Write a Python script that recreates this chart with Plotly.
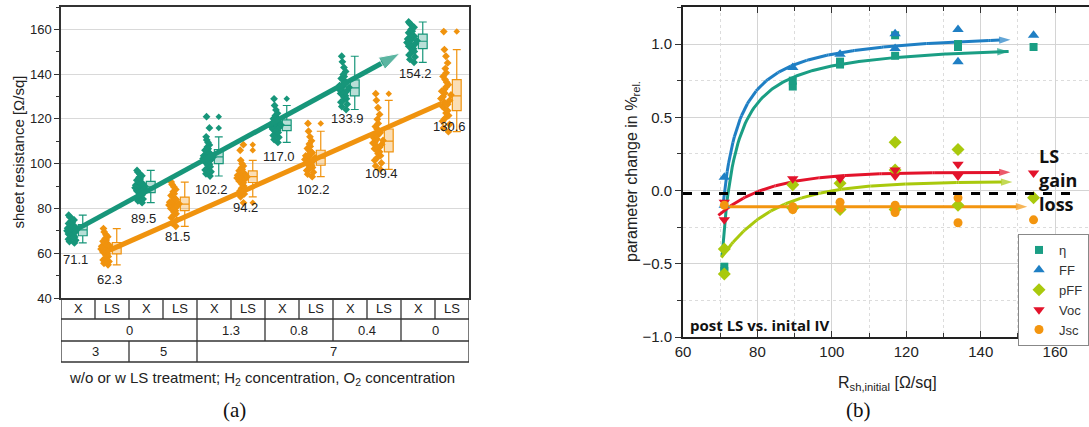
import numpy as np
import plotly.graph_objects as go

# ---------------- panel (a) data ----------------
treatment_labels = ["X", "LS"] * 6
h2_labels = ["0", "1.3", "0.8", "0.4", "0"]
h2_spans = [4, 2, 2, 2, 2]
o2_labels = ["3", "5", "7"]
o2_spans = [2, 2, 8]

mean_X = [71.1, 89.5, 102.2, 117.0, 133.9, 154.2]
mean_LS = [62.3, 81.5, 94.2, 102.2, 109.4, 130.6]

samples_X = [
    [64.6, 65.2, 65.8, 66.3, 66.8, 67.2, 67.5, 67.8, 68.2, 68.6, 68.9, 69.3, 69.6, 70.0, 70.3,
     70.6, 70.9, 71.2, 71.5, 71.8, 72.1, 72.4, 72.8, 73.3, 73.8, 74.3, 74.9, 75.5, 76.2, 77.0],
    [82.6, 83.4, 84.2, 84.9, 85.5, 86.1, 86.6, 87.1, 87.5, 87.9, 88.3, 88.6, 88.9, 89.2, 89.5,
     89.8, 90.1, 90.4, 90.7, 91.0, 91.3, 91.7, 92.1, 92.6, 93.2, 93.9, 94.6, 95.4, 96.2, 97.0],
    [94.5, 95.5, 96.4, 97.2, 97.9, 98.6, 99.2, 99.8, 100.3, 100.8, 101.2, 101.6, 102.0, 102.3, 102.6,
     102.9, 103.2, 103.5, 103.8, 104.1, 104.5, 104.9, 105.4, 106.0, 106.7, 107.5, 108.4, 109.5, 110.6,
     112.0, 116.0, 121.0],
    [109.5, 110.8, 111.8, 112.6, 113.3, 113.9, 114.4, 114.8, 115.2, 115.5, 115.8, 116.1, 116.4, 116.7,
     117.0, 117.3, 117.6, 117.9, 118.2, 118.5, 118.8, 119.2, 119.6, 120.1, 120.7, 121.5, 122.5, 124.0,
     126.0, 129.0],
    [124.2, 125.5, 126.6, 127.5, 128.3, 129.0, 129.7, 130.3, 130.9, 131.4, 131.9, 132.4, 132.9, 133.3,
     133.7, 134.1, 134.5, 134.9, 135.3, 135.8, 136.3, 136.8, 137.4, 138.1, 138.9, 139.9, 141.2, 143.0,
     145.5, 148.0],
    [145.3, 146.6, 147.7, 148.6, 149.4, 150.1, 150.8, 151.4, 152.0, 152.5, 152.9, 153.3, 153.7, 154.1,
     154.5, 154.9, 155.3, 155.7, 156.1, 156.5, 156.9, 157.4, 157.9, 158.5, 159.2, 160.0, 160.9, 161.8,
     162.6, 163.3],
]
samples_LS = [
    [54.8, 55.5, 56.3, 57.0, 57.8, 58.5, 59.1, 59.7, 60.2, 60.6, 61.0, 61.3, 61.6, 61.9, 62.2,
     62.5, 62.8, 63.1, 63.4, 63.7, 64.0, 64.4, 64.8, 65.3, 65.9, 66.6, 67.4, 68.3, 69.5, 71.0],
    [72.0, 73.5, 74.8, 75.9, 76.8, 77.6, 78.3, 79.0, 79.5, 80.0, 80.4, 80.8, 81.2, 81.5, 81.8,
     82.1, 82.4, 82.8, 83.2, 83.6, 84.0, 84.5, 85.1, 85.8, 86.6, 87.5, 88.5, 89.6, 90.7, 91.8],
    [82.5, 85.2, 86.5, 87.8, 89.0, 90.0, 90.8, 91.5, 91.9, 92.3, 92.7, 93.0, 93.3, 93.6, 93.9,
     94.2, 94.5, 94.8, 95.1, 95.4, 95.7, 96.0, 96.4, 96.9, 97.5, 98.2, 99.0, 100.0, 101.5, 106.0, 108.5],
    [94.2, 95.3, 96.2, 97.0, 97.7, 98.3, 98.8, 99.3, 99.8, 100.3, 100.7, 101.1, 101.5, 101.9, 102.3,
     102.7, 103.1, 103.5, 103.9, 104.4, 104.9, 105.4, 106.0, 106.8, 107.7, 108.8, 110.2, 112.0, 114.5, 118.0],
    [97.5, 99.0, 100.3, 101.5, 102.6, 103.6, 104.5, 105.3, 106.0, 106.7, 107.4, 108.0, 108.6, 109.2,
     109.8, 110.4, 111.0, 111.6, 112.3, 113.0, 113.8, 114.6, 115.5, 116.6, 118.0, 119.8, 122.0, 125.0,
     128.3, 131.3],
    [114.3, 116.0, 117.6, 119.0, 120.3, 121.5, 122.6, 123.7, 124.7, 125.6, 126.5, 127.4, 128.3, 129.1,
     129.9, 130.7, 131.5, 132.4, 133.3, 134.3, 135.3, 136.4, 137.6, 139.0, 140.6, 142.5, 145.0, 148.0,
     151.0, 159.0],
]

# trend lines: start / end of each line
trend_X_pos = [0.5, 9.97]
trend_X_val = [71.0, 149.3]
trend_LS_pos = [1.45, 11.2]
trend_LS_val = [61.5, 127.0]

# ---------------- panel (b) data ----------------
rsh_initial = [71.1, 89.5, 102.2, 117.0, 133.9, 154.2]
eta_vals = [[-0.52, -0.55], [0.71, 0.75], [0.86, 0.88], [1.06, 0.92], [1.00, 0.98], [0.98]]
ff_vals = [[0.09, -0.10], [0.84], [0.93], [1.07, 0.97], [1.10, 0.88], [1.06]]
pff_vals = [[-0.40, -0.57], [0.04, -0.12], [0.05, -0.13], [0.33, 0.14, -0.13], [0.28, -0.10], [-0.05]]
voc_vals = [[-0.08, -0.20], [0.08], [0.08], [0.14, 0.10], [0.18, 0.10], [0.12]]
jsc_vals = [[-0.10], [-0.11, -0.13], [-0.08, -0.12], [-0.10, -0.15], [-0.05, -0.22], [-0.20]]

# fitted saturation curves: (kind, plateau a, amplitude b, shift c / x0, time t, x_start, x_end)
fit_eta = ("hyp", 1.02, 5.66, 66.65, None, 70.5, 147.5)
fit_ff = ("hyp", 1.10, 5.77, 65.93, None, 70.7, 148.0)
fit_pff = ("exp", 0.06, 0.51, 70.5, 14.0, 70.3, 148.5)
fit_voc = ("exp", 0.125, 0.295, 69.5, 13.2, 69.5, 148.0)
fit_jsc = ("exp", -0.11, 0.0, 70.5, 10.0, 70.5, 152.5)

zero_ref_y = -0.02

# ---------------- styles ----------------
GREEN = "#17967a"
ORANGE = "#f0930e"
C_ETA = "#1a9e84"
C_FF = "#1f7fc4"
C_PFF = "#a9c90d"
C_VOC = "#e3132b"
C_JSC = "#f3950f"

W, H = 1089, 427


def py(px):
    return (H - px) / H


def rgba(hexc, a):
    h = hexc.lstrip("#")
    return "rgba(%d,%d,%d,%.2f)" % (int(h[0:2], 16), int(h[2:4], 16), int(h[4:6], 16), a)


def ann(**kw):
    d = dict(showarrow=False, xanchor="center", yanchor="middle")
    d.update(kw)
    return d


fig = go.Figure()

# ---- panel (a): strips + boxes ----
for g in range(6):
    for col, vals, color in ((2 * g, samples_X[g], GREEN), (2 * g + 1, samples_LS[g], ORANGE)):
        fig.add_trace(go.Box(
            x=[col + 0.33] * len(vals), y=vals, width=0.32,
            boxpoints="all", jitter=1, pointpos=0,
            marker=dict(symbol="diamond", size=6, color=color),
            line=dict(width=0, color=color), fillcolor="rgba(0,0,0,0)",
            showlegend=False, hoverinfo="skip", xaxis="x", yaxis="y"))
        fig.add_trace(go.Box(
            x=[col + 0.64] * len(vals), y=vals, width=0.26,
            boxpoints="outliers", whiskerwidth=0.9,
            marker=dict(symbol="diamond", size=5, color=color),
            line=dict(width=1.2, color=color), fillcolor=rgba(color, 0.3),
            showlegend=False, hoverinfo="skip", xaxis="x", yaxis="y"))

fig.add_trace(go.Scatter(
    x=trend_X_pos, y=trend_X_val, mode="lines+markers",
    line=dict(color=GREEN, width=5),
    marker=dict(symbol=["circle", "arrow"], size=[0.1, 22], angleref="previous", color=GREEN),
    showlegend=False, hoverinfo="skip", xaxis="x", yaxis="y"))
fig.add_trace(go.Scatter(
    x=trend_LS_pos, y=trend_LS_val, mode="lines",
    line=dict(color=ORANGE, width=5),
    showlegend=False, hoverinfo="skip", xaxis="x", yaxis="y"))

annotations = []
for g in range(6):
    annotations.append(ann(x=2 * g + 0.42, y=mean_X[g], xref="x", yref="y", text="%.1f" % mean_X[g],
                           yshift=-31, font=dict(size=13, color="#222")))
    annotations.append(ann(x=2 * g + 1.42, y=mean_LS[g], xref="x", yref="y", text="%.1f" % mean_LS[g],
                           yshift=-31, font=dict(size=13, color="#222")))

# ---- table under panel (a) ----
row_px = [298, 319, 341, 362]
rows = [py(p) for p in row_px]
shapes = []
LC = "#333"
for r in rows[1:]:
    shapes.append(dict(type="line", xref="x", yref="paper", x0=0, x1=12, y0=r, y1=r,
                       line=dict(color=LC, width=1.3)))
for side in (0, 12):
    shapes.append(dict(type="line", xref="x", yref="paper", x0=side, x1=side, y0=rows[3], y1=rows[0],
                       line=dict(color=LC, width=1.3)))


def add_row(labels, spans, r_top, r_bot):
    pos = 0
    for lab, sp in zip(labels, spans):
        annotations.append(ann(x=pos + sp / 2, y=(r_top + r_bot) / 2, xref="x", yref="paper",
                               text=lab, font=dict(size=13, color="#222")))
        pos += sp
        if pos < 12:
            shapes.append(dict(type="line", xref="x", yref="paper", x0=pos, x1=pos, y0=r_bot, y1=r_top,
                               line=dict(color=LC, width=1.3)))


add_row(treatment_labels, [1] * 12, rows[0], rows[1])
add_row(h2_labels, h2_spans, rows[1], rows[2])
add_row(o2_labels, o2_spans, rows[2], rows[3])

annotations.append(ann(x=18 / W, y=py(152.5), xref="paper", yref="paper", text="sheet resistance [Ω/sq]",
                       textangle=-90, font=dict(size=15, color="#222")))
annotations.append(ann(x=262 / W, y=py(378), xref="paper", yref="paper",
                       text="w/o or w LS treatment; H<sub>2</sub> concentration, O<sub>2</sub> concentration",
                       font=dict(size=15, color="#222")))
annotations.append(ann(x=234 / W, y=py(410), xref="paper", yref="paper", text="(a)",
                       font=dict(size=21, color="#111", family="Liberation Serif, Times New Roman")))

# ---- panel (b) ----
def curve(fit):
    kind, a, b, c, t, xs, xe = fit
    xx = np.linspace(xs, xe, 200)
    if kind == "hyp":
        yy = a - b / (xx - c)
    else:
        yy = a - b * np.exp(-(xx - c) / t)
    return xx, yy


for fit, color in ((fit_eta, C_ETA), (fit_ff, C_FF), (fit_pff, C_PFF), (fit_voc, C_VOC), (fit_jsc, C_JSC)):
    xx, yy = curve(fit)
    n = len(xx)
    fig.add_trace(go.Scatter(
        x=xx, y=yy, mode="lines+markers", line=dict(color=color, width=3),
        marker=dict(symbol=["circle"] * (n - 1) + ["arrow"], size=[0] * (n - 1) + [12],
                    angleref="previous", color=color, line=dict(width=0)),
        showlegend=False, hoverinfo="skip", xaxis="x2", yaxis="y2"))


def flat(vals):
    xs, ys = [], []
    for x, vs in zip(rsh_initial, vals):
        for v in vs:
            xs.append(x)
            ys.append(v)
    return xs, ys


for name, vals, color, sym, size in (("η", eta_vals, C_ETA, "square", 8),
                                     ("FF", ff_vals, C_FF, "triangle-up", 10),
                                     ("pFF", pff_vals, C_PFF, "diamond", 10),
                                     ("Voc", voc_vals, C_VOC, "triangle-down", 10),
                                     ("Jsc", jsc_vals, C_JSC, "circle", 9)):
    xs, ys = flat(vals)
    fig.add_trace(go.Scatter(x=xs, y=ys, mode="markers", name=name,
                             marker=dict(symbol=sym, size=size, color=color, line=dict(width=0)),
                             xaxis="x2", yaxis="y2", hoverinfo="skip"))

shapes.append(dict(type="line", xref="x2", yref="y2", x0=60, x1=166, y0=zero_ref_y, y1=zero_ref_y,
                   line=dict(color="black", width=3, dash="dash")))

annotations += [
    ann(x=155.2, y=0.235, xref="x2", yref="y2", text="<b>LS</b>", xanchor="left",
        font=dict(size=18, color="#111", family="Open Sans")),
    ann(x=155.2, y=0.075, xref="x2", yref="y2", text="<b>gain</b>", xanchor="left",
        font=dict(size=18, color="#111", family="Open Sans")),
    ann(x=155.2, y=-0.095, xref="x2", yref="y2", text="<b>loss</b>", xanchor="left",
        font=dict(size=18, color="#111", family="Open Sans")),
    ann(x=61.3, y=-0.915, xref="x2", yref="y2", text="<b>post LS vs. inital IV</b>",
        xanchor="left", font=dict(size=15, color="#111", family="Open Sans")),
    ann(x=632 / W, y=py(172), xref="paper", yref="paper", text="parameter change in %<sub>rel.</sub>",
        textangle=-90, font=dict(size=16, color="#222")),
    ann(x=887 / W, y=py(383), xref="paper", yref="paper", text="R<sub>sh,initial</sub> [Ω/sq]",
        font=dict(size=16, color="#222")),
    ann(x=858 / W, y=py(410), xref="paper", yref="paper", text="(b)",
        font=dict(size=21, color="#111", family="Liberation Serif, Times New Roman")),
]

fig.update_layout(
    width=W, height=H, margin=dict(l=0, r=0, t=0, b=0, autoexpand=False),
    paper_bgcolor="white", plot_bgcolor="white",
    font=dict(family="Liberation Sans, Arial", color="#222"),
    boxmode="overlay",
    xaxis=dict(domain=[61 / W, 469 / W], range=[0, 12], showgrid=False, zeroline=False, automargin=False,
               showticklabels=False, ticks="", showline=True, linecolor=LC, linewidth=1.5, mirror=True),
    yaxis=dict(domain=[py(298), py(7)], range=[40, 170], tick0=40, dtick=20, ticks="outside",
               ticklen=5, tickcolor=LC, showgrid=True, gridcolor="#d9d9d9", zeroline=False, automargin=False,
               showline=True, linecolor=LC, linewidth=1.5, mirror=True,
               tickfont=dict(size=13, color="#222"),
               minor=dict(dtick=10, ticks="outside", ticklen=3, tickcolor=LC, showgrid=False)),
    xaxis2=dict(domain=[683 / W, 1.0], range=[60, 169.1], anchor="y2", tick0=60, dtick=20,
                ticks="inside", ticklen=6, tickcolor=LC, showgrid=True, gridcolor="#d4d4d4",
                zeroline=False, showline=True, linecolor="#222", linewidth=2, mirror="ticks",
                automargin=False, tickfont=dict(size=15, color="#222"),
                minor=dict(dtick=10, ticks="inside", ticklen=4, tickcolor=LC, showgrid=True,
                           gridcolor="#dcdcdc", griddash="dot")),
    yaxis2=dict(domain=[py(337), py(7)], range=[-1.0, 1.253], anchor="x2", tick0=0, dtick=0.5,
                tickformat=".1f", ticks="outside", ticklen=6, tickcolor=LC, showgrid=True,
                gridcolor="#d4d4d4", zeroline=False, showline=True, linecolor="#222", linewidth=2,
                mirror=True, automargin=False, tickfont=dict(size=15, color="#222"),
                minor=dict(dtick=0.25, ticks="outside", ticklen=4, tickcolor=LC, showgrid=True,
                           gridcolor="#dcdcdc", griddash="dot")),
    legend=dict(x=1.0, y=py(234), xanchor="right", yanchor="top", bordercolor="#888",
                borderwidth=1, bgcolor="white", font=dict(size=13, color="#333"),
                itemsizing="trace", tracegroupgap=0, itemwidth=30),
    shapes=shapes, annotations=annotations,
)

fig.write_html("out.html")
